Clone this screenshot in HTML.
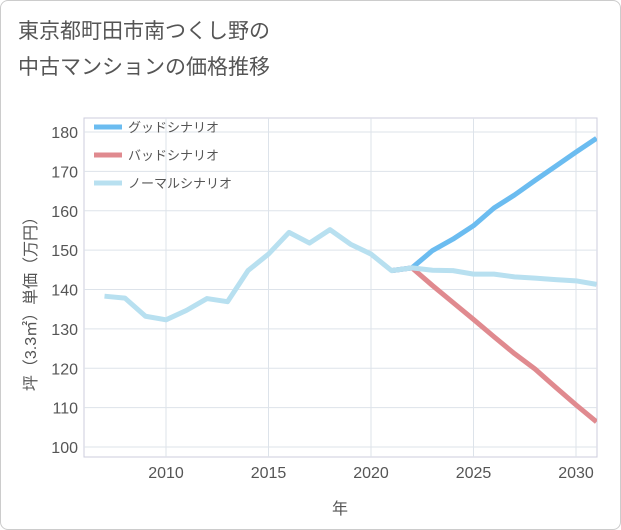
<!DOCTYPE html>
<html><head><meta charset="utf-8"><style>
body{margin:0;background:#fff;font-family:"Liberation Sans","Noto Sans CJK JP",sans-serif;}
#card{position:absolute;left:0;top:0;width:619px;height:528px;border:1px solid #ccc;border-radius:8px;background:#fff;}
#title{position:absolute;left:18px;top:14px;font-size:21px;line-height:36px;color:#555;}
svg{position:absolute;left:0;top:0;}
</style></head><body>
<div id="card"></div>
<div id="title">東京都町田市南つくし野の<br>中古マンションの価格推移</div>
<svg id="chart" width="621" height="530"></svg>
<script>
const years=[2007,2008,2009,2010,2011,2012,2013,2014,2015,2016,2017,2018,2019,2020,2021,2022,2023,2024,2025,2026,2027,2028,2029,2030,2031];
const normal=[138.3,137.8,133.2,132.3,134.7,137.7,136.9,144.8,149,154.5,151.8,155.2,151.5,149,144.8,145.5,144.9,144.8,143.9,143.9,143.2,142.9,142.5,142.2,141.3];
const goodYears=[2021,2022,2023,2024,2025,2026,2027,2028,2029,2030,2031];
const good=[144.8,145.5,149.9,152.8,156.2,160.7,164,167.7,171.3,174.9,178.4];
const bad=[144.8,145.5,141,136.7,132.4,128,123.7,119.8,115.2,110.7,106.4];
const yTicks=[100,110,120,130,140,150,160,170,180];
const xTicks=[2010,2015,2020,2025,2030];
const legendLabels=["グッドシナリオ","バッドシナリオ","ノーマルシナリオ"];
const colors=["#6bbcf0","#e08a8f","#b8e0f0"];
const L=84,R=597,T=118,B=457;
const xs=y=>166+(y-2010)*20.5;
const ys=v=>447-(v-100)*3.9375;
const svg=document.getElementById('chart');
const NS='http://www.w3.org/2000/svg';
function mk(t,a,p){const e=document.createElementNS(NS,t);for(const k in a)e.setAttribute(k,a[k]);(p||svg).appendChild(e);return e;}
const bg=mk('rect',{x:L,y:T,width:R-L,height:B-T,fill:'#fff',stroke:'#ccd',});


yTicks.forEach(v=>{
 const g=mk('line',{x1:L,x2:R,y1:ys(v),y2:ys(v),stroke:'#dde3ea'});
 
 
 const t=mk('text',{x:78,y:ys(v)+6,'text-anchor':'end','font-size':16,fill:'#555'});
 t.textContent=v;
 
 
});
xTicks.forEach(v=>{
 const g=mk('line',{x1:xs(v),x2:xs(v),y1:T,y2:B,stroke:'#dde3ea'});
 
 
 const t=mk('text',{x:xs(v),y:478,'text-anchor':'middle','font-size':16,fill:'#555'});
 t.textContent=v;
 
 
});
const xt=mk('text',{x:340,y:514,'text-anchor':'middle','font-size':16,fill:'#555'});
xt.textContent='年';


const yt=mk('text',{x:0,y:0,'text-anchor':'middle','font-size':16,fill:'#555',transform:'translate(36,300) rotate(-90)'});
yt.textContent='坪（3.3㎡）単価（万円）';


const clip=mk('clipPath',{id:'c'});mk('rect',{x:L,y:T,width:R-L,height:B-T},clip);
function line(xv,yv,c,name){
 const p=mk('polyline',{points:xv.map((x,i)=>xs(x)+','+ys(yv[i])).join(' '),fill:'none',stroke:c,'stroke-width':5,'stroke-linejoin':'round','clip-path':'url(#c)'});
 
 
}
line(goodYears,bad,colors[1],'bad-scenario-line');
line(goodYears,good,colors[0],'good-scenario-line');
line(years,normal,colors[2],'normal-scenario-line');
legendLabels.forEach((l,i)=>{
 const y=127+i*28;
 const s=mk('line',{x1:94,x2:122,y1:y,y2:y,stroke:colors[i],'stroke-width':5});
 
 
 const t=mk('text',{x:128,y:y+5,'font-size':13,fill:'#555'});
 t.textContent=l;
 
 
});
</script>
</body></html>
